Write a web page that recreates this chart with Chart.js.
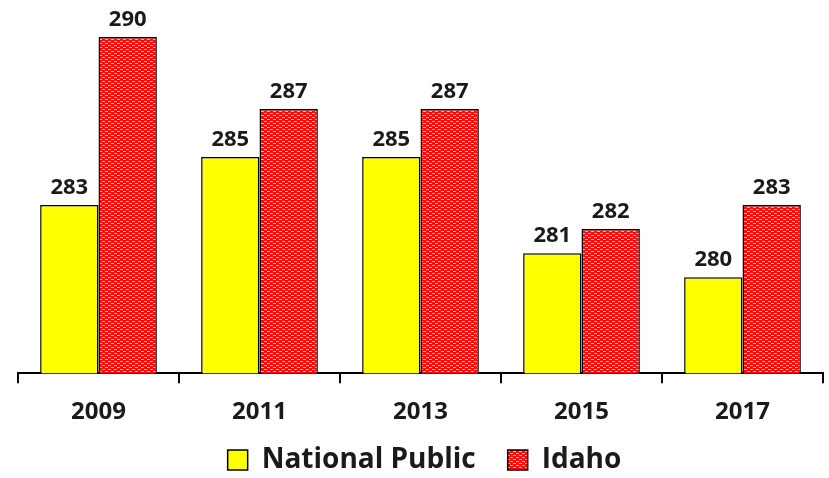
<!DOCTYPE html>
<html><head><meta charset="utf-8">
<script src="https://cdn.jsdelivr.net/npm/chart.js@4/dist/chart.umd.min.js"></script>
<style>html,body{margin:0;padding:0;background:#fff}#wrap{width:829px;height:478px}</style>
</head><body><div id="wrap"><canvas id="c"></canvas></div>
<script>
const categories = ['2009','2011','2013','2015','2017'];
const nationalPublic = [283,285,285,281,280];
const idaho = [290,287,287,282,283];
const seriesNames = ['National Public','Idaho'];

const redPattern = (function(){
  const p=document.createElement('canvas');p.width=6;p.height=4;
  const g=p.getContext('2d');
  g.fillStyle='#FF0A0A';g.fillRect(0,0,6,4);
  g.fillStyle='rgba(255,225,225,0.85)';
  g.fillRect(0,1,3,1);g.fillRect(3,3,3,1);
  return g.createPattern(p,'repeat');
})();

const FONT='"Open Sans"';
const labelPlugin={id:'vals',afterDatasetsDraw(chart){
  const ctx=chart.ctx; ctx.save();
  ctx.font='bold 22px '+FONT; ctx.fillStyle='#1a1a1a'; ctx.textAlign='center'; ctx.textBaseline='alphabetic';
  chart.data.datasets.forEach((ds,i)=>{
    chart.getDatasetMeta(i).data.forEach((bar,j)=>{
      ctx.fillText(String(ds.data[j]), bar.x, bar.y-11);
    });
  });
  ctx.restore();
}};

// tighten the legend's vertical spacing while keeping its wide horizontal gap
const LEG_SHIFT_Y = 28, LEG_SHIFT_X = 4;
const legendPatch={id:'legendPatch',beforeUpdate(chart){
  const lg=chart.legend; if(!lg||lg._patched) return; lg._patched=true;
  const od=lg.draw;
  lg.draw=function(){
    const t=this.top,l=this.left,r=this.right;
    this.top=t-LEG_SHIFT_Y; this.left=l+LEG_SHIFT_X; this.right=r+LEG_SHIFT_X;
    od.apply(this,arguments);
    this.top=t; this.left=l; this.right=r;
  };
}};

new Chart(document.getElementById('c'),{
  type:'bar',
  data:{labels:categories,datasets:[
    {label:seriesNames[0],data:nationalPublic,backgroundColor:'#FFFF00',borderColor:'#000',borderWidth:1.5,borderSkipped:'bottom',categoryPercentage:0.725,barPercentage:1.0},
    {label:seriesNames[1],data:idaho,backgroundColor:redPattern,borderColor:'#000',borderWidth:1.5,borderSkipped:'bottom',categoryPercentage:0.725,barPercentage:1.0}
  ]},
  options:{
    responsive:true,maintainAspectRatio:false,animation:false,
    layout:{padding:{top:37,left:18,right:6,bottom:-9}},
    plugins:{
      legend:{position:'bottom',maxHeight:45,labels:{font:{family:'Open Sans',weight:'bold',size:28},color:'#1a1a1a',boxWidth:20,boxHeight:20,padding:32}},
      tooltip:{enabled:false}
    },
    scales:{
      x:{
        grid:{display:true,drawOnChartArea:false,drawTicks:true,tickLength:10,color:'#000',lineWidth:2,offset:true},
        border:{display:true,color:'#000',width:2},
        ticks:{font:{family:'Open Sans',weight:'bold',size:24},color:'#1a1a1a',padding:15}},
      y:{display:false,min:276,max:290}
    }
  },
  plugins:[labelPlugin,legendPatch]
});
</script></body></html>
